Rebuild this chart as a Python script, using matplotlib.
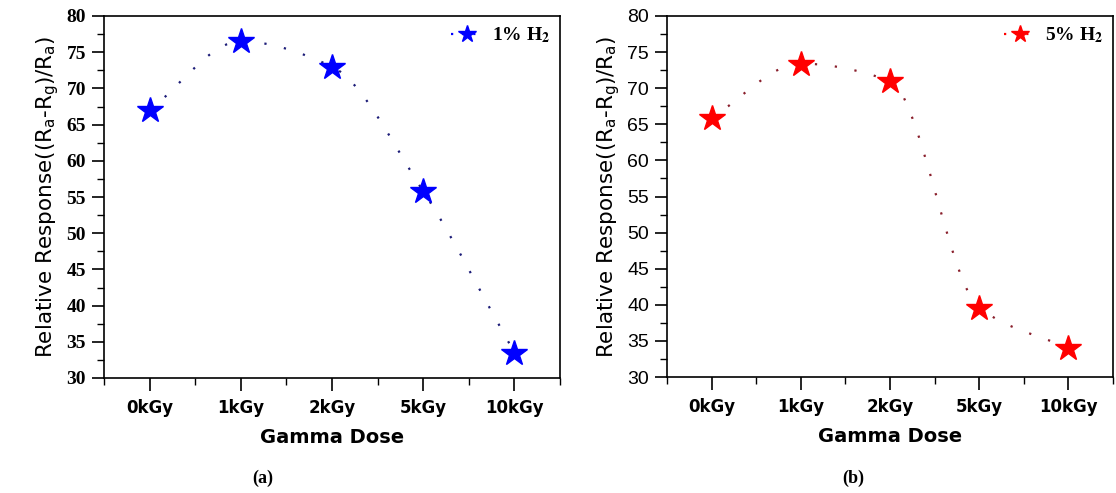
# Relative response vs gamma dose for 1% and 5% H2 (two panels).

import numpy as np
import matplotlib.pyplot as plt
from matplotlib.path import Path
from matplotlib.patches import PathPatch
from matplotlib.lines import Line2D
from matplotlib.ticker import MultipleLocator, FixedLocator

doses = ["0kGy", "1kGy", "2kGy", "5kGy", "10kGy"]
resp_1 = [67.0, 76.5, 73.0, 55.8, 33.5]
resp_5 = [65.9, 73.4, 71.0, 39.6, 34.0]


def smooth_path(x, y):
    # monotone cubic (pchip style) joined as bezier segments
    x = np.asarray(x, float)
    y = np.asarray(y, float)
    h = np.diff(x)
    d = np.diff(y) / h
    m = np.zeros_like(y)
    for k in range(1, len(y) - 1):
        if d[k-1] * d[k] > 0:
            m[k] = 2.0 / (1.0 / d[k-1] + 1.0 / d[k])
    m[0] = d[0]
    m[-1] = d[-1]
    verts = [(x[0], y[0])]
    codes = [Path.MOVETO]
    for k in range(len(x) - 1):
        verts += [(x[k] + h[k]/3, y[k] + m[k]*h[k]/3),
                  (x[k+1] - h[k]/3, y[k+1] - m[k+1]*h[k]/3),
                  (x[k+1], y[k+1])]
        codes += [Path.CURVE4] * 3
    return Path(verts, codes)


fig = plt.figure(figsize=(11.16, 4.93), dpi=100)

panels = [
    ([104/1116, 115/493, 456/1116, 362/493], resp_1, "blue", "#1c1c78", r"1% H$_\mathbf{2}$", "(a)", 263, "serif"),
    ([667/1116, 116/493, 446/1116, 361/493], resp_5, "red", "#8a1f2c", r"5% H$_\mathbf{2}$", "(b)", 853, "sans"),
]

for rect, vals, col, dotcol, lab, cap, capx, tickfont in panels:
    ax = fig.add_axes(rect)
    xs = np.arange(len(doses))

    patch = PathPatch(smooth_path(xs, vals), fill=False, edgecolor=dotcol,
                      linewidth=1.6, linestyle=(0, (1, 8)), zorder=2)
    ax.add_patch(patch)
    ax.plot(xs, vals, linestyle="none", marker="*", markersize=19,
            color=col, markeredgecolor=col, zorder=3)

    ax.set_xlim(-0.5, 4.5)
    ax.set_ylim(30, 80)
    ax.set_xticks(xs)
    ax.set_xticklabels(doses, fontsize=12, fontweight="bold", family="DejaVu Sans")
    ax.xaxis.set_minor_locator(FixedLocator(np.arange(-0.5, 5.0, 1.0)))
    ax.yaxis.set_major_locator(MultipleLocator(5))
    ax.yaxis.set_minor_locator(MultipleLocator(2.5))
    ax.tick_params(which="major", direction="out", length=9, width=1.2, pad=4)
    ax.tick_params(which="minor", direction="out", length=5, width=1.0)
    ax.tick_params(axis="x", which="major", pad=6)
    for s in ax.spines.values():
        s.set_linewidth(1.2)

    for t in ax.get_yticklabels():
        if tickfont == "serif":
            t.set_family("Liberation Serif")
            t.set_fontweight("bold")
            t.set_fontsize(14)
        else:
            t.set_family("Liberation Sans")
            t.set_fontsize(14)

    ax.set_xlabel("Gamma Dose", fontsize=14, fontweight="bold",
                  family="DejaVu Sans", labelpad=8)
    ax.set_ylabel(r"Relative Response((R$_\mathrm{a}$-R$_\mathrm{g}$)/R$_\mathrm{a}$)",
                  fontsize=15.5, family="DejaVu Sans",
                  math_fontfamily="dejavusans", labelpad=4)

    handle = Line2D([], [], color=col, marker="*", markersize=13,
                    linestyle=(0, (1, 4)), linewidth=1.6)
    leg = ax.legend([handle], [lab], loc="upper right", frameon=False,
                    handlelength=1.6, handletextpad=0.5, borderaxespad=0.1,
                    prop={"family": "Liberation Serif", "weight": "bold",
                          "size": 14, "math_fontfamily": "stix"})
    leg.get_lines()[0].set_markevery([1])

    fig.text(capx/1116, 1 - 478/493, cap, ha="center", va="center",
             fontsize=13, fontweight="bold", family="Liberation Serif")

fig.savefig("out.png", dpi=100)
